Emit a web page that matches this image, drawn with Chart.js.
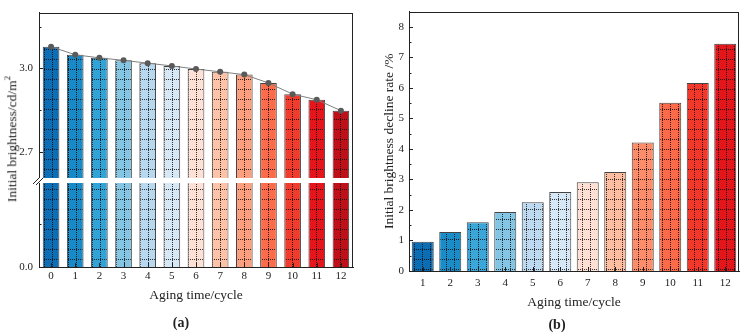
<!DOCTYPE html>
<html>
<head>
<meta charset="utf-8">
<script src="https://cdn.jsdelivr.net/npm/chart.js@4.4.1/dist/chart.umd.min.js"></script>
<style>
  body { margin: 0; background: #fff; }
  #wrap { position: relative; width: 747px; height: 336px; font-family: "Liberation Serif", "DejaVu Serif", serif; color: #222; }
  canvas { position: absolute; top: 0; }
  .ytitle { position: absolute; white-space: nowrap; font-size: 13.5px; transform: translate(-50%, -50%) rotate(-90deg); }
  .ytitle sup { font-size: 9px; }
  .panel { position: absolute; font-size: 14px; font-weight: bold; transform: translate(-50%, -50%); }
</style>
</head>
<body>
<div id="wrap">
  <canvas id="chartA" width="370" height="336" style="left:0"></canvas>
  <canvas id="chartB" width="377" height="336" style="left:370px"></canvas>
  <div class="ytitle" style="left:11px; top:139px">Initial brightness/cd/m<sup>2</sup></div>
  <div class="panel" style="left:181px; top:323px">(a)</div>
  <div class="panel" style="left:557px; top:325px">(b)</div>
</div>
<script>
// ---- data ----
const agingA = ['0', '1', '2', '3', '4', '5', '6', '7', '8', '9', '10', '11', '12'];
const brightness = [3.078, 3.049, 3.038, 3.029, 3.019, 3.009, 2.998, 2.988, 2.978, 2.948, 2.908, 2.888, 2.849];

const agingB = ['1', '2', '3', '4', '5', '6', '7', '8', '9', '10', '11', '12'];
const declineRate = [0.96, 1.28, 1.60, 1.93, 2.25, 2.59, 2.91, 3.24, 4.21, 5.51, 6.16, 7.45];

// tick positions / labels
const upperTicks = [2.7, 2.85, 3.0, 3.15];
const upperLabels = [2.7, 3.0];
const lowerTicks = [0, 0.3];
const lowerLabels = [0];
const rateTicks = [0, 0.5, 1, 1.5, 2, 2.5, 3, 3.5, 4, 4.5, 5, 5.5, 6, 6.5, 7, 7.5, 8];
const rateLabels = [0, 1, 2, 3, 4, 5, 6, 7, 8];

// ---- styles ----
const coloursA = ['#0d6eb4', '#1a8ac6', '#31a3d6', '#84c5e3', '#b8d8ef', '#d6e8f6', '#fde1d5',
                  '#fcc3a8', '#fb9f7e', '#fb6d4a', '#f03c2c', '#e5151c', '#bf0f19'];
const coloursB = ['#0c6db3', '#1a8dc8', '#3aa7d8', '#84c5e3', '#bddaf0', '#d6e8f6',
                  '#fde0d3', '#fcbda1', '#fc8d6b', '#fb6b49', '#f2382b', '#e3161b'];

const serif = '"Liberation Serif", "DejaVu Serif", serif';
const txt = '#222';

// dotted grid fill, like the origin pattern
function hatch(colour) {
  const c = document.createElement('canvas');
  c.width = 8; c.height = 10;
  const g = c.getContext('2d');
  g.fillStyle = colour;
  g.fillRect(0, 0, 8, 10);
  g.fillStyle = 'rgba(0,0,0,0.78)';
  for (let x = 0; x < 8; x += 2) g.fillRect(x, 9, 1, 1);
  for (let y = 0; y < 10; y += 2) g.fillRect(4, y, 1, 1);
  return g.createPattern(c, 'repeat');
}

function has(list, v) {
  return list.some(x => Math.abs(x - v) < 1e-6);
}

// box round the plot area
const frame = {
  id: 'frame',
  afterDatasetsDraw(chart) {
    const { ctx, chartArea: a } = chart;
    ctx.save();
    ctx.strokeStyle = '#222';
    ctx.lineWidth = 1;
    ctx.strokeRect(Math.round(a.left) + 0.5, Math.round(a.top) + 0.5,
                   Math.round(a.right - a.left) - 1, Math.round(a.bottom - a.top));
    ctx.restore();
  }
};

// ticks pointing into the plot
const inwardTicks = {
  id: 'inwardTicks',
  afterDatasetsDraw(chart, args, opts) {
    const { ctx, chartArea: a } = chart;
    ctx.save();
    ctx.strokeStyle = '#222';
    ctx.lineWidth = 1;
    Object.values(chart.scales).forEach(s => {
      s.ticks.forEach((t, i) => {
        ctx.beginPath();
        if (s.axis === 'y') {
          const y = Math.round(s.getPixelForValue(t.value)) + 0.5;
          const len = has(opts.major || [], t.value) ? 4 : 2.5;
          ctx.moveTo(a.left, y);
          ctx.lineTo(a.left + len, y);
        } else {
          const x = Math.round(s.getPixelForTick(i)) + 0.5;
          ctx.moveTo(x, a.bottom);
          ctx.lineTo(x, a.bottom - 4);
        }
        ctx.stroke();
      });
    });
    ctx.restore();
  }
};

// keep a dataset inside its own (stacked) y axis
const axisClip = {
  id: 'axisClip',
  beforeDatasetDraw(chart, args) {
    const ds = chart.data.datasets[args.index];
    if (!ds.clipToAxis) return;
    const s = chart.scales[ds.yAxisID];
    const ctx = chart.ctx;
    ctx.save();
    ctx.beginPath();
    ctx.rect(chart.chartArea.left, s.top, chart.chartArea.width, s.bottom - s.top);
    ctx.clip();
  },
  afterDatasetDraw(chart, args) {
    const ds = chart.data.datasets[args.index];
    if (ds.clipToAxis) chart.ctx.restore();
  }
};

// white gap and // marks at the axis break
const axisBreak = {
  id: 'axisBreak',
  afterDraw(chart) {
    const { ctx, chartArea: a } = chart;
    const by = Math.round(chart.scales.yTop.bottom);
    ctx.save();
    ctx.fillStyle = '#fff';
    ctx.fillRect(a.left - 1, by - 2, a.right - a.left, 5);
    ctx.strokeStyle = '#222';
    ctx.lineWidth = 1;
    ctx.beginPath();
    ctx.moveTo(a.left - 6, by + 4); ctx.lineTo(a.left + 1, by - 3);
    ctx.moveTo(a.left - 3, by + 5); ctx.lineTo(a.left + 4, by - 2);
    ctx.stroke();
    ctx.restore();
  }
};

const tickFont = { family: serif, size: 11 };
const titleFont = { family: serif, size: 13.5 };

// ---- panel (a) ----
const barsA = {
  type: 'bar',
  data: brightness,
  backgroundColor: coloursA.map(hatch),
  borderColor: '#444',
  borderWidth: 1,
  barPercentage: 0.69,
  categoryPercentage: 1,
  grouped: false,
  order: 2
};

new Chart(document.getElementById('chartA'), {
  data: {
    labels: agingA,
    datasets: [
      {
        type: 'line',
        data: brightness,
        yAxisID: 'yTop',
        borderColor: '#808080',
        borderWidth: 1,
        tension: 0,
        pointRadius: 3,
        pointBackgroundColor: '#5a5a5a',
        pointBorderWidth: 0,
        order: 0
      },
      Object.assign({}, barsA, { yAxisID: 'yTop' }),
      Object.assign({}, barsA, { yAxisID: 'yBot', clipToAxis: true })
    ]
  },
  options: {
    responsive: false,
    animation: false,
    devicePixelRatio: 1,
    layout: { padding: { left: 0, top: 12, right: 17, bottom: 32 } },
    plugins: {
      legend: { display: false },
      tooltip: { enabled: false },
      inwardTicks: { major: upperLabels.concat(lowerLabels) }
    },
    scales: {
      x: {
        grid: { display: false, drawTicks: false },
        border: { display: true, color: '#222' },
        ticks: { font: tickFont, color: txt, padding: 3 },
        title: { display: true, text: 'Aging time/cycle', font: titleFont, color: txt, padding: { top: 0, bottom: 0 } },
        afterFit: s => { s.height = 37; }
      },
      yBot: {
        type: 'linear',
        position: 'left',
        stack: 'brk',
        stackWeight: 1,
        min: 0,
        max: 0.6,
        grid: { display: false, drawTicks: false },
        border: { display: true, color: '#222' },
        afterBuildTicks: s => { s.ticks = lowerTicks.map(v => ({ value: v })); },
        ticks: {
          font: tickFont, color: txt, padding: 6,
          callback: v => has(lowerLabels, v) ? v.toFixed(1) : ''
        },
        afterFit: s => { s.width = 39; }
      },
      yTop: {
        type: 'linear',
        position: 'left',
        stack: 'brk',
        stackWeight: 1.93,
        min: 2.6,
        max: 3.2,
        grid: { display: false, drawTicks: false },
        border: { display: true, color: '#222' },
        afterBuildTicks: s => { s.ticks = upperTicks.map(v => ({ value: v })); },
        ticks: {
          font: tickFont, color: txt, padding: 6,
          callback: v => has(upperLabels, v) ? v.toFixed(1) : ''
        },
        afterFit: s => { s.width = 39; }
      }
    }
  },
  plugins: [axisClip, frame, inwardTicks, axisBreak]
});

// ---- panel (b) ----
new Chart(document.getElementById('chartB'), {
  type: 'bar',
  data: {
    labels: agingB,
    datasets: [{
      data: declineRate,
      backgroundColor: coloursB.map(hatch),
      borderColor: '#444',
      borderWidth: 1,
      barPercentage: 0.8,
      categoryPercentage: 1
    }]
  },
  options: {
    responsive: false,
    animation: false,
    devicePixelRatio: 1,
    layout: { padding: { left: 0, top: 6, right: 8, bottom: 25 } },
    plugins: {
      legend: { display: false },
      tooltip: { enabled: false },
      inwardTicks: { major: rateLabels }
    },
    scales: {
      x: {
        grid: { display: false, drawTicks: false },
        border: { display: true, color: '#222' },
        ticks: { font: tickFont, color: txt, padding: 6 },
        title: { display: true, text: 'Aging time/cycle', font: titleFont, color: txt, padding: { top: 0, bottom: 0 } },
        afterFit: s => { s.height = 40; }
      },
      y: {
        min: 0,
        max: 8.5,
        grid: { display: false, drawTicks: false },
        border: { display: true, color: '#222' },
        afterBuildTicks: s => { s.ticks = rateTicks.map(v => ({ value: v })); },
        ticks: {
          font: tickFont, color: txt, padding: 5,
          callback: v => has(rateLabels, v) ? String(v) : ''
        },
        title: { display: true, text: 'Initial brightness decline rate /%', font: titleFont, color: txt, padding: { top: 11, bottom: 0 } },
        afterFit: s => { s.width = 39; }
      }
    }
  },
  plugins: [frame, inwardTicks]
});
</script>
</body>
</html>
